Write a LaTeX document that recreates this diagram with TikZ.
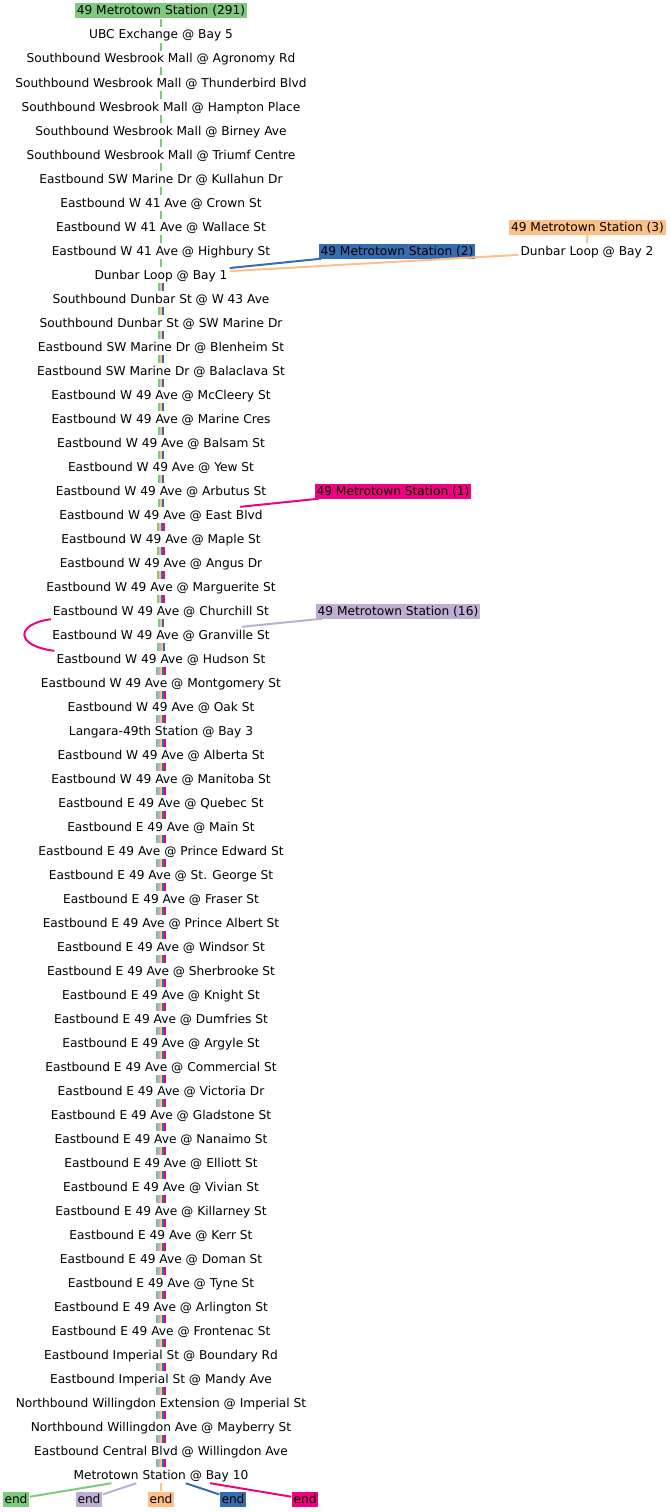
\documentclass[tikz,border=0pt]{standalone}
\usepackage{fontspec}
\setmainfont{DejaVu Sans}
\definecolor{cg}{HTML}{7FC97F}
\definecolor{cp}{HTML}{BEAED4}
\definecolor{co}{HTML}{FDC086}
\definecolor{cb}{HTML}{386CB0}
\definecolor{cm}{HTML}{F0027F}
\begin{document}
\begin{tikzpicture}[x=1pt,y=-1pt,
  every node/.style={font=\fontsize{12.2}{14}\selectfont, text height=10pt, text depth=2pt, inner xsep=2pt},
  stop/.style={inner ysep=2pt},
  lab/.style={fill=#1, inner ysep=1.5pt},
  ln/.style={line width=2pt, draw=#1}]
\useasboundingbox (0,0) rectangle (670,1512);
\node[lab=cg] (l291) at (161,11) {49 Metrotown Station (291)};
\foreach \t [count=\i] in {UBC Exchange @ Bay 5,
Southbound Wesbrook Mall @ Agronomy Rd,
Southbound Wesbrook Mall @ Thunderbird Blvd,
Southbound Wesbrook Mall @ Hampton Place,
Southbound Wesbrook Mall @ Birney Ave,
Southbound Wesbrook Mall @ Triumf Centre,
Eastbound SW Marine Dr @ Kullahun Dr,
Eastbound W 41 Ave @ Crown St,
Eastbound W 41 Ave @ Wallace St,
Eastbound W 41 Ave @ Highbury St,
Dunbar Loop @ Bay 1,
Southbound Dunbar St @ W 43 Ave,
Southbound Dunbar St @ SW Marine Dr,
Eastbound SW Marine Dr @ Blenheim St,
Eastbound SW Marine Dr @ Balaclava St,
Eastbound W 49 Ave @ McCleery St,
Eastbound W 49 Ave @ Marine Cres,
Eastbound W 49 Ave @ Balsam St,
Eastbound W 49 Ave @ Yew St,
Eastbound W 49 Ave @ Arbutus St,
Eastbound W 49 Ave @ East Blvd,
Eastbound W 49 Ave @ Maple St,
Eastbound W 49 Ave @ Angus Dr,
Eastbound W 49 Ave @ Marguerite St,
Eastbound W 49 Ave @ Churchill St,
Eastbound W 49 Ave @ Granville St,
Eastbound W 49 Ave @ Hudson St,
Eastbound W 49 Ave @ Montgomery St,
Eastbound W 49 Ave @ Oak St,
Langara-49th Station @ Bay 3,
Eastbound W 49 Ave @ Alberta St,
Eastbound W 49 Ave @ Manitoba St,
Eastbound E 49 Ave @ Quebec St,
Eastbound E 49 Ave @ Main St,
Eastbound E 49 Ave @ Prince Edward St,
Eastbound E 49 Ave @ St. George St,
Eastbound E 49 Ave @ Fraser St,
Eastbound E 49 Ave @ Prince Albert St,
Eastbound E 49 Ave @ Windsor St,
Eastbound E 49 Ave @ Sherbrooke St,
Eastbound E 49 Ave @ Knight St,
Eastbound E 49 Ave @ Dumfries St,
Eastbound E 49 Ave @ Argyle St,
Eastbound E 49 Ave @ Commercial St,
Eastbound E 49 Ave @ Victoria Dr,
Eastbound E 49 Ave @ Gladstone St,
Eastbound E 49 Ave @ Nanaimo St,
Eastbound E 49 Ave @ Elliott St,
Eastbound E 49 Ave @ Vivian St,
Eastbound E 49 Ave @ Killarney St,
Eastbound E 49 Ave @ Kerr St,
Eastbound E 49 Ave @ Doman St,
Eastbound E 49 Ave @ Tyne St,
Eastbound E 49 Ave @ Arlington St,
Eastbound E 49 Ave @ Frontenac St,
Eastbound Imperial St @ Boundary Rd,
Eastbound Imperial St @ Mandy Ave,
Northbound Willingdon Extension @ Imperial St,
Northbound Willingdon Ave @ Mayberry St,
Eastbound Central Blvd @ Willingdon Ave,
Metrotown Station @ Bay 10}
  {\node[stop] (s\i) at (161,{35+24*(\i-1)}) {\t};}
% side labels
\node[lab=cb] (l2) at (397,251) {49 Metrotown Station (2)};
\node[lab=co] (l3) at (587.5,227) {49 Metrotown Station (3)};
\node[stop] (d2) at (587,251) {Dunbar Loop @ Bay 2};
\node[lab=cm] (l1) at (393,491) {49 Metrotown Station (1)};
\node[lab=cp] (l16) at (398,611) {49 Metrotown Station (16)};
% end nodes
\node[lab=cg] (e1) at (16,1499) {end};
\node[lab=cp] (e2) at (89,1499) {end};
\node[lab=co] (e3) at (161,1499) {end};
\node[lab=cb] (e4) at (233,1499) {end};
\node[lab=cm] (e5) at (305,1499) {end};
% trunk: green only
\draw[ln=cg] (l291.south) -- (s1.north);
\foreach \a in {1,...,10}{\pgfmathtruncatemacro\b{\a+1}
  \draw[ln=cg] (s\a.south) -- (s\b.north);}
% three lines
\foreach \a in {11,...,20,25}{\pgfmathtruncatemacro\b{\a+1}
  \foreach \c [count=\k] in {cg,co,cb}{\pgfmathsetmacro\dx{(\k-2)*2-0.5}
    \draw[ln=\c] ([xshift=\dx pt]s\a.south) -- ([xshift=\dx pt]s\b.north);}}
% four lines with pink
\foreach \a in {21,...,24}{\pgfmathtruncatemacro\b{\a+1}
  \foreach \c [count=\k] in {cg,co,cb,cm}{\pgfmathsetmacro\dx{(\k-2.5)*2-0.5}
    \draw[ln=\c] ([xshift=\dx pt]s\a.south) -- ([xshift=\dx pt]s\b.north);}}
% four lines with purple
\foreach \c [count=\k] in {cg,cp,co,cb}{\pgfmathsetmacro\dx{(\k-2.5)*2-0.5}
  \draw[ln=\c] ([xshift=\dx pt]s26.south) -- ([xshift=\dx pt]s27.north);}
% five lines
\foreach \a in {27,...,60}{\pgfmathtruncatemacro\b{\a+1}
  \foreach \c [count=\k] in {cg,cp,co,cb,cm}{\pgfmathsetmacro\dx{(\k-3)*2-0.5}
    \draw[ln=\c] ([xshift=\dx pt]s\a.south) -- ([xshift=\dx pt]s\b.north);}}
% branches
\draw[ln=cb] (l2) -- (s11);
\draw[ln=co] (l3) -- (d2);
\draw[ln=co] (d2) -- (s11);
\draw[ln=cm] (l1) -- (s21);
\draw[ln=cp] (l16) -- (s26);
\draw[ln=cm] (s25.south west) .. controls (15,624) and (15,646) .. (s27.north west);
% ends
\draw[ln=cg] (s61) -- (e1);
\draw[ln=cp] (s61) -- (e2);
\draw[ln=co] (s61) -- (e3);
\draw[ln=cb] (s61) -- (e4);
\draw[ln=cm] (s61) -- (e5);
\end{tikzpicture}
\end{document}
